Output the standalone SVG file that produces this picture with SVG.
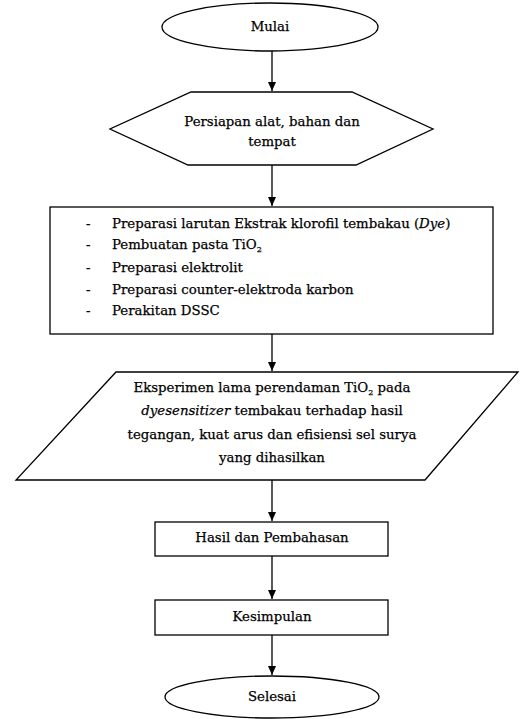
<svg xmlns="http://www.w3.org/2000/svg" width="520" height="719" viewBox="0 0 520 719">
<style>
.s{fill:#fff;stroke:#000;stroke-width:1.3}
.t{font-family:"DejaVu Serif","Liberation Serif",serif;font-size:13.3px;fill:#000;stroke:#000;stroke-width:0.25}
.c{text-anchor:middle}
.l{stroke:#000;stroke-width:1.3;fill:none}
</style>
<defs>
<marker id="ah" markerWidth="10" markerHeight="10" refX="9" refY="5" orient="auto" markerUnits="userSpaceOnUse">
<path d="M0,1 L9,5 L0,9 Z" fill="#000"/>
</marker>
</defs>
<rect width="520" height="719" fill="#fff"/>
<g id="connectors">
<line class="l" x1="272" y1="51" x2="272" y2="91" marker-end="url(#ah)"/>
<line class="l" x1="272" y1="165" x2="272" y2="206" marker-end="url(#ah)"/>
<line class="l" x1="272" y1="334" x2="272" y2="371" marker-end="url(#ah)"/>
<line class="l" x1="272" y1="480" x2="272" y2="521" marker-end="url(#ah)"/>
<line class="l" x1="272" y1="556" x2="272" y2="599" marker-end="url(#ah)"/>
<line class="l" x1="272" y1="635" x2="272" y2="675" marker-end="url(#ah)"/>
</g>
<g id="mulai">
<ellipse class="s" cx="270" cy="27" rx="108" ry="24"/>
<text class="t c" x="270" y="31">Mulai</text>
</g>
<g id="persiapan">
<polygon class="s" points="191,92 352,92 433,129 356,165 188,165 110,129"/>
<text class="t c" x="272" y="126">Persiapan alat, bahan dan</text>
<text class="t c" x="272" y="146">tempat</text>
</g>
<g id="preparasi">
<rect class="s" x="50" y="207" width="443" height="127"/>
<g class="t">
<text x="86" y="228">-</text><text x="112" y="228">Preparasi larutan Ekstrak klorofil tembakau (<tspan font-style="italic">Dye</tspan>)</text>
<text x="86" y="249">-</text><text x="112" y="249">Pembuatan pasta TiO<tspan font-size="8" dy="3">2</tspan></text>
<text x="86" y="272">-</text><text x="112" y="272">Preparasi elektrolit</text>
<text x="86" y="294">-</text><text x="112" y="294">Preparasi counter-elektroda karbon</text>
<text x="86" y="315">-</text><text x="112" y="315">Perakitan DSSC</text>
</g>
</g>
<g id="eksperimen">
<polygon class="s" points="116,372 518,372 425,480 16,480"/>
<text class="t c" x="272" y="392">Eksperimen lama perendaman TiO<tspan font-size="8" dy="3">2</tspan><tspan dy="-3"> pada</tspan></text>
<text class="t c" x="272" y="415"><tspan font-style="italic">dyesensitizer</tspan> tembakau terhadap hasil</text>
<text class="t c" x="272" y="439">tegangan, kuat arus dan efisiensi sel surya</text>
<text class="t c" x="272" y="462">yang dihasilkan</text>
</g>
<g id="hasil">
<rect class="s" x="155" y="522" width="233" height="34"/>
<text class="t c" x="272" y="542">Hasil dan Pembahasan</text>
</g>
<g id="kesimpulan">
<rect class="s" x="155" y="600" width="233" height="35"/>
<text class="t c" x="272" y="621">Kesimpulan</text>
</g>
<g id="selesai">
<ellipse class="s" cx="272" cy="697" rx="107" ry="21"/>
<text class="t c" x="272" y="701">Selesai</text>
</g>
</svg>
